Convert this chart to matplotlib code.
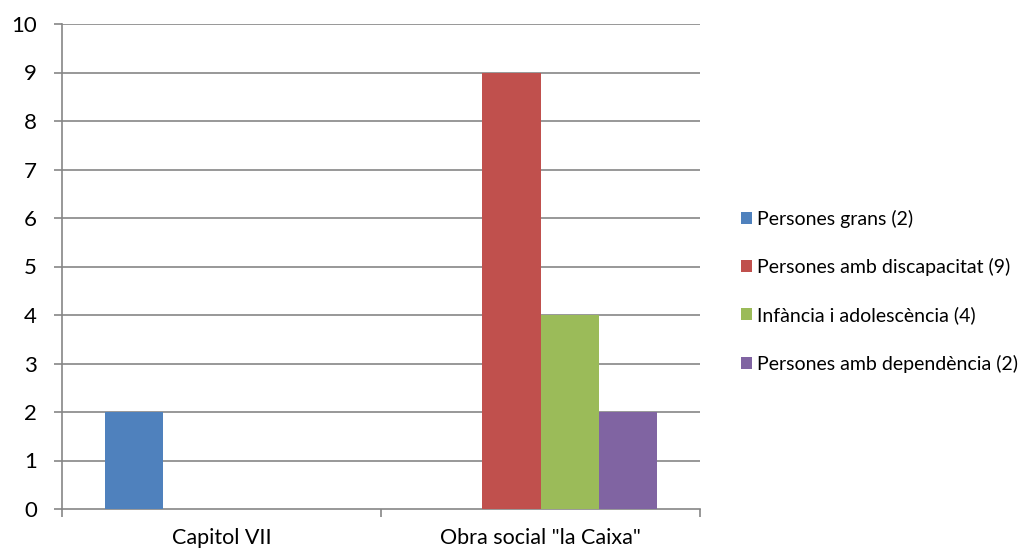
import matplotlib
matplotlib.use("Agg")
import matplotlib.pyplot as plt
import numpy as np

plt.rcParams['font.family'] = ['Lato', 'DejaVu Sans']

categories = ['Capitol VII', 'Obra social "la Caixa"']
series_names = ['Persones grans (2)', 'Persones amb discapacitat (9)',
                'Infància i adolescència (4)', 'Persones amb dependència (2)']
values = [
    [2, 0],
    [0, 9],
    [0, 4],
    [0, 2],
]
colors = ['#4F81BD', '#C0504D', '#9BBB59', '#8064A2']
y_ticks = [0, 1, 2, 3, 4, 5, 6, 7, 8, 9, 10]

W, H = 1027, 551
fig = plt.figure(figsize=(W / 100, H / 100), dpi=100)
ax = fig.add_axes([62 / W, 1 - 509 / H, (700 - 62) / W, (509 - 24) / H])

grid_c = '#868686'
x = np.arange(len(categories))
bw = 0.182
n = len(series_names)
handles = []
for i, (name, vals) in enumerate(zip(series_names, values)):
    off = (i - (n - 1) / 2) * bw
    b = ax.bar(x + off, vals, width=bw, color=colors[i], label=name, zorder=3)
    handles.append(b)

ax.set_xlim(-0.5, len(categories) - 0.5)
ax.set_ylim(0, 10)
ax.set_yticks(y_ticks)
for t in y_ticks[1:]:
    ax.axhline(t, color=grid_c, lw=1.2, zorder=1)

for s in ['top', 'right']:
    ax.spines[s].set_visible(False)
for s in ['left', 'bottom']:
    ax.spines[s].set_color(grid_c)
    ax.spines[s].set_linewidth(1.2)

ax.tick_params(axis='y', length=6, width=1.2, color=grid_c, pad=12, labelsize=16)
ax.set_xticks([-0.5, 0.5, 1.5])
ax.set_xticklabels([])
ax.tick_params(axis='x', which='major', length=6, width=1.2, color=grid_c)
ax.set_xticks(x, minor=True)
ax.set_xticklabels(categories, minor=True)
ax.tick_params(axis='x', which='minor', length=0, pad=14, labelsize=15.5)

leg = fig.legend(handles=handles, labels=series_names, loc='center left',
                 bbox_to_anchor=(733 / W, 1 - 291 / H), frameon=False,
                 fontsize=14.0, handlelength=0.57, handleheight=0.57,
                 handletextpad=0.25, labelspacing=1.56, borderaxespad=0)

fig.savefig('out.png', dpi=100)
